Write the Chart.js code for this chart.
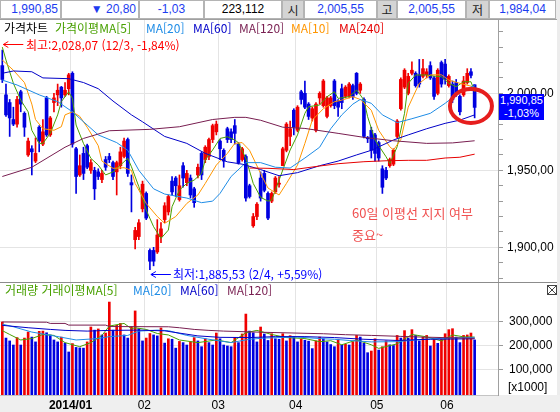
<!DOCTYPE html>
<html lang="ko">
<head>
<meta charset="utf-8">
<title>가격차트</title>
<script src="https://cdn.jsdelivr.net/npm/chart.js@4.4.1/dist/chart.umd.min.js"></script>
<style>
  html, body { margin: 0; padding: 0; }
  body { width: 560px; height: 412px; overflow: hidden; position: relative; background: #ececec;
         font-family: "Noto Sans CJK KR", sans-serif; font-size: 12px; }
  .box { position: absolute; }
  .cell { position: absolute; top: 0; height: 19px; box-sizing: border-box; background: #fff;
          border: 1px solid #b4b4b4; text-align: center; line-height: 17px;
          font-family: "Liberation Sans", sans-serif; font-size: 12px; color: #1c3cf0; }
  .key { background: #d4d4d4; color: #222; font-family: "Noto Sans CJK KR", sans-serif; }
  #panel { left: 0; top: 19px; width: 557px; height: 376px; background: #fff; border-top: 1px solid #a0a0a0; box-sizing: border-box; }
  #split { left: 0; top: 282px; width: 557px; height: 1px; background: #8c8c8c; }
  #strip { left: 0; top: 395px; width: 560px; height: 17px; background: #efefef; }
  canvas { position: absolute; left: 0; }
  .lg { position: absolute; white-space: nowrap; line-height: 14px; font-size: 12px; }
</style>
</head>
<body>
<div class="cell" style="left:0;width:61px;text-align:right;padding-right:2px">1,990,85</div>
<div class="cell" style="left:61px;width:78px;text-align:right;padding-right:2px">▼ 20,80</div>
<div class="cell" style="left:139px;width:65px">-1,03</div>
<div class="cell" style="left:204px;width:78px;color:#000">223,112</div>
<div class="cell key" style="left:282px;width:22px">시</div>
<div class="cell" style="left:304px;width:73px">2,005,55</div>
<div class="cell key" style="left:377px;width:20px">고</div>
<div class="cell" style="left:397px;width:69px">2,005,55</div>
<div class="cell key" style="left:466px;width:23px">저</div>
<div class="cell" style="left:489px;width:67px">1,984,04</div>

<div id="panel" class="box"></div>
<div id="split" class="box"></div>
<div id="strip" class="box"></div>

<canvas id="price" width="557" height="262" style="top:20px"></canvas>
<canvas id="volume" width="557" height="129" style="top:283px"></canvas>

<div class="lg" style="left:4px;top:21px;color:#000">가격차트</div>
<div class="lg" style="left:55px;top:21px;color:#48a000">가격이평MA[5]</div>
<div class="lg" style="left:146px;top:21px;color:#1e8ce6">MA[20]</div>
<div class="lg" style="left:193px;top:21px;color:#0000c8">MA[60]</div>
<div class="lg" style="left:239px;top:21px;color:#781e50">MA[120]</div>
<div class="lg" style="left:291px;top:21px;color:#ff9600">MA[10]</div>
<div class="lg" style="left:339px;top:21px;color:#e60000">MA[240]</div>

<div class="lg" style="left:26px;top:38px;color:#ff0000">최고:2,028,07 (12/3, -1,84%)</div>
<div class="lg" style="left:173px;top:267px;color:#0000ff">최저:1,885,53 (2/4, +5,59%)</div>
<div class="lg" style="left:352px;top:205px;color:#f05050;font-size:13px;line-height:16px">60일 이평선 지지 여부</div>
<div class="lg" style="left:352px;top:227px;color:#f05050;font-size:13px;line-height:16px">중요~</div>

<div class="box" style="left:499px;top:94px;width:45px;height:26px;background:#0000ff;color:#fff;font-family:'Liberation Sans',sans-serif;font-size:11px;line-height:13px;text-align:center">1,990,85<br>-1,03%</div>

<div class="lg" style="left:5px;top:283px;color:#48a000">거래량 거래이평MA[5]</div>
<div class="lg" style="left:133px;top:283px;color:#1e8ce6">MA[20]</div>
<div class="lg" style="left:180px;top:283px;color:#0000c8">MA[60]</div>
<div class="lg" style="left:227px;top:283px;color:#781e50">MA[120]</div>
<svg class="box" style="left:547px;top:285px" width="10" height="10"><rect x="0.5" y="0.5" width="9" height="9" fill="#fff" stroke="#444"/><path d="M1 1L9 9M9 1L1 9" stroke="#444"/></svg>
<div class="lg" style="left:508px;top:380px;color:#000;font-family:'Liberation Sans',sans-serif">[x1000]</div>

<script>
// candles, Dec 3 2013 .. Jun 2014
const opens = [2018,1999,1994,1983,1980,2001,1987,1960,1964,1956,1978,1967,1997,1973,1994,1999,2004,1999,2003,2013,
  1964,1947,1961,1966,1950,1950,1949,1944,1957,1959,1955,1949,1953,1959,1970,1942,1905,1907,1925,1935,
  1898,1898,1897,1907,1918,1923,1943,1945,1931,1953,1942,1945,1938,1947,1961,1957,1959,1970,1975,1969,
  1963,1977,1975,1979,1967,1957,1959,1940,1914,1920,1945,1948,1935,1930,1936,1941,1953,1963,1972,1989,
  1976,2001,2000,1993,1984,1976,1997,1992,1985,1992,2008,1995,2003,1998,1998,2005,2013,2002,1996,1971,
  1976,1973,1968,1951,1950,1953,1954,1972,1990,2004,2000,2013,2013,2012,2011,2012,2018,2010,2000,2020,
  2019,2005,2006,2007,1998,1999,2007,2014,2005.55];
const highs = [2028.07,2006,1996,1991,1998,2002,1988,1971,1966,1971,1979,1983,1998,1985,2000,2006,2004.5,2007,2013,2014,
  1965,1960,1965,1967,1957,1952,1951,1950,1959,1961,1956,1956,1965,1971,1971,1947,1913,1918,1943,1936,
  1899,1900,1918,1916,1929,1934,1946,1946,1947,1955,1950,1947,1939,1954,1962,1966,1971,1980,1982,1970,
  1964,1978,1977,1983,1968,1965,1960,1941,1922,1929,1949,1950,1936,1936,1946,1946,1965,1981,1982,1990,
  1992,2002,2008,1994,1991,1994,2001,2009,1998,1998,2009,1996,2006,2005,2007,2006,2013.5,2007,1997,1972,
  1978,1974,1969,1953,1952,1958,1964,1983,2010,2016,2013,2020.5,2014,2022,2022,2016,2020.5,2011,2016,2021,
  2022,2012,2008,2009,1999,2011,2016,2016,2005.55];
const lows = [2007,1985,1972,1979,1978,1988,1972,1959,1947,1955,1962,1966,1972,1972,1988,1992,1991,1998,1999,1965,
  1935,1946,1944,1951,1948,1931,1944,1942,1950,1955,1944,1934,1951,1958,1946,1923,1899,1905,1923,1918,
  1885.53,1888,1896,1903,1916,1921,1934,1933,1930,1939,1940,1932,1926,1945,1944,1955,1957,1968,1973,1957,
  1952,1968,1968,1967,1954,1956,1930,1932,1913,1918,1930,1936,1918,1929,1935,1939,1953,1962,1966,1973,
  1975,1993,1990,1983,1982,1975,1993,1991,1984,1991,1990,1985,1990,1997,1997,1996,1999,2000,1971,1968,
  1958,1956,1956,1935,1944,1952,1953,1971,1989,2003,1999,2012,2004,2004,2010,2010,2009,1996,1999,2004,
  2006,2004,1994,1998,1986,1998,2006,2010,1984.04];
const closes = [2009,1986,1984,1980,1996,1993,1978,1969,1962,1961,1969,1975,1973,1984,1997,2002,1997,2002,2012,1967,
  1946,1953,1948,1952,1955,1938,1946,1948,1952,1957,1946,1955,1962,1969,1948,1940.5,1911,1916,1941,1919,
  1891,1891,1908,1912,1927,1933,1936,1940,1940,1945,1948,1934,1929,1952,1947,1965,1970,1979,1980,1964,
  1956,1970,1970,1974,1955,1964,1932,1933,1920,1928,1932,1937,1919,1935,1945,1941.5,1964,1980,1977,1978,
  1991,1996,1991,1985,1990,1993,2000,2008,1997,1997,1992,1991,1994,2004,2006,1998,2000,2006,1972,1970.5,
  1963,1961,1958,1939,1945,1957,1963,1982,2009,2015,2011,2015,2005,2006,2016,2014,2010,1998,2015,2006,
  2009,2011,1996,1999,1988,2008,2013,2011.65,1990.85];

// volume, thousand shares
const volumes = [298000,231000,219000,202000,233000,202000,231000,256000,235000,215000,
  259000,260000,253000,244000,223000,215000,235000,210000,173000,208000,
  192000,190000,189000,215000,277000,264000,269000,244000,252000,381000,
  264000,284000,292000,244000,231000,278000,344000,270000,219000,231000,
  250000,244000,240000,273000,210000,228000,226000,189000,217000,212000,
  202000,215000,233000,219000,195000,228000,212000,202000,252000,228000,
  202000,198000,195000,233000,212000,248000,331000,260000,253000,215000,
  277000,248000,221000,249000,228000,226000,249000,219000,241000,236000,
  215000,226000,222000,218000,187000,219000,235000,228000,215000,204000,
  195000,226000,202000,205000,202000,216000,242000,235000,209000,170000,
  177000,228000,181000,195000,219000,203000,200000,242000,231000,262000,
  231000,266000,242000,219000,235000,242000,198000,226000,209000,226000,
  249000,266000,270000,235000,212000,242000,244000,252000,223112];

// moving averages: [candle index, value]
const ma5 = [[0,2030],[1,2021.6],[3,2006.5],[5,1995.6],[7,1988],[8,1976],[10,1967.5],[11,1967.5],[13,1974],[15,1986],
  [16,1994.6],[18,2001],[19,1996.7],[20,1979.4],[22,1967.5],[24,1957.8],[26,1953.4],[28,1947],[30,1949],[32,1953.4],
  [34,1957.8],[35,1952.3],[37,1939.4],[39,1924.2],[41,1913.4],[43,1905.8],[45,1911.2],[46,1926.4],[48,1937.2],[50,1941.5],
  [52,1943.7],[54,1948],[55,1956.7],[57,1963.2],[59,1970.7],[61,1971.8],[63,1969.7],[64,1967.9],[66,1957.8],[68,1941.5],
  [70,1932.5],[72,1930],[73,1930.7],[74,1937],[76,1950.2],[78,1963.2],[80,1973],[82,1987],[83,1991.3],[86,1992.4],
  [88,1997.8],[90,2001],[91,1996.7],[94,1997.8],[96,2002.1],[97,1999],[98,1995.6],[99,1984.8],[101,1969.7],[104,1958.8],
  [105,1954.5],[107,1965.3],[109,1987],[110,2006.5],[112,2011.9],[115,2011.9],[117,2011.2],[119,2010.8],[121,2006.5],[123,2004.3],
  [125,2007.5],[127,2007.5],[128,2001]];
const ma10 = [[0,2021.6],[3,2015],[6,2007],[8,1993],[9,1983],[11,1977],[14,1976],[16,1978.3],[17,1986],[19,1988],
  [21,1985],[23,1978],[26,1966],[27,1956],[30,1951.3],[33,1951.7],[35,1950],[36,1941.5],[39,1928.5],[42,1920],
  [44,1915.6],[47,1920],[50,1928.5],[53,1934],[55,1941.5],[58,1953.4],[61,1961],[63,1967.5],[65,1968],[67,1963],
  [70,1948],[72,1938.5],[75,1934],[77,1941.5],[80,1953.4],[82,1967.5],[84,1982.6],[87,1990],[90,1994.5],[92,1995.6],
  [95,1997.8],[97,1996],[100,1989],[102,1976],[105,1965.3],[106,1963.2],[108,1970],[110,1991],[113,2006.5],[116,2012],
  [119,2012],[121,2008.6],[124,2006.5],[128,2004]];
const ma20 = [[0,2008.6],[4,2005.4],[10,1999],[15,1994.6],[19,1988],[23,1979.4],[26,1973],[31,1968],[34,1963],[37,1950],
  [41,1938],[44,1934.6],[50,1932],[54,1929],[57,1930],[59,1935],[62,1946],[66,1955],[70,1955],[74,1952],
  [78,1951.5],[82,1958],[86,1965],[89,1977],[92,1986],[95,1993],[97,1996],[100,1993.5],[103,1986],[107,1981],
  [111,1983.5],[116,1987],[120,1993.5],[124,2001],[128,2005]];
const ma60 = [[0,2013],[3,2014.5],[8,2014],[11,2010],[18,2009.5],[22,2007],[26,2003],[30,1995],[35,1986],[38,1981.5],
  [44,1972],[50,1967.5],[55,1961],[61,1955.5],[65,1954],[70,1950.5],[75,1946.5],[80,1948.5],[86,1953],[91,1956],
  [96,1960],[100,1963],[106,1969.7],[110,1973],[115,1977],[120,1980.5],[124,1982.6],[128,1986]];
const ma120 = [[0,1946],[8,1952],[17,1965],[22,1970.7],[29,1975.7],[40,1976.6],[48,1978.3],[57,1983],[63,1984.4],[66,1984.4],
  [70,1982.5],[76,1978],[82,1977.2],[91,1974],[98,1971.4],[106,1969.2],[115,1967.5],[122,1967.8],[128,1969.2]];
const ma240 = [[67,1951.5],[72,1951.3],[79,1950.5],[86,1952.8],[91,1954.3],[98,1955.6],[104,1956.2],[110,1956.5],[115,1956.5],[120,1958],
  [124,1958.5],[128,1960.5]];

const volMa5 = [[0,262000],[2,246000],[5,223000],[8,229000],[11,246000],[14,242000],[17,212000],[21,195000],[24,212000],[27,242000],
  [29,281000],[33,292000],[35,270000],[36,274000],[39,267000],[42,250000],[45,244000],[48,223000],[53,212000],[58,223000],
  [62,212000],[66,253000],[69,263000],[73,246000],[77,233000],[82,229000],[86,216000],[89,220000],[92,203000],[96,223000],
  [100,203000],[102,188000],[107,207000],[111,246000],[115,236000],[119,219000],[122,244000],[125,236000],[128,235000]];
const volMa20 = [[0,289000],[3,278000],[8,256000],[14,240000],[20,223000],[26,229000],[29,237000],[34,242000],[37,260000],[42,264000],
  [45,262000],[50,242000],[56,226000],[62,212000],[67,226000],[71,231000],[80,235000],[87,228000],[90,226000],[94,221000],
  [100,215000],[107,216000],[114,226000],[121,231000],[128,234000]];
const volMa60 = [[0,284000],[7,274000],[13,267000],[17,263000],[23,260000],[29,263000],[37,264000],[44,261000],[53,240000],[59,234000],
  [67,233000],[74,237000],[82,237000],[90,233000],[98,226000],[107,221000],[116,226000],[128,228000]];
const volMa120 = [[0,298000],[12,297000],[13,292000],[17,292000],[18,285000],[28,285000],[29,279000],[45,278000],[48,274000],[52,267000],
  [56,263000],[60,260000],[71,255000],[87,249000],[93,245000],[100,242000],[108,238000],[114,235000],[128,230000]];

// first trading day of each month, and its axis label
const monthStart = [19, 39, 59, 80, 102, 121];
const monthLabels = ['2014/01', '02', '03', '04', '05', '06'];
const priceTicks = [1900, 1950, 2000];
const volumeTicks = [100000, 200000, 300000];

const RED = '#f00000', BLUE = '#0000e0';
const GRID = '#e4e4e4';
const AXIS_FONT = { family: 'Liberation Sans', size: 12 };

const idx = closes.map((_, i) => i);
const pts = a => a.map(([x, y]) => ({ x, y }));
const fmt = (v, d) => {
  const [a, b] = v.toFixed(d).split('.');
  return a.replace(/\B(?=(\d{3})+(?!\d))/g, ',') + (b ? ',' + b : '');
};
const line = (label, arr, color) => ({
  type: 'line', label, data: pts(arr), borderColor: color, borderWidth: 1,
  pointRadius: 0, tension: 0, fill: false, order: 0
});
const noPad = s => { s.paddingTop = 0; s.paddingBottom = 0; s.paddingLeft = 0; s.paddingRight = 0; };

const xScale = (withLabels) => ({
  type: 'linear', min: -0.623, max: 134.33, offset: false,
  afterBuildTicks: s => { s.ticks = monthStart.map(m => ({ value: m - 0.5 })); },
  ticks: {
    display: withLabels, autoSkip: false, maxRotation: 0, padding: 3, color: '#000',
    callback: (v, i) => monthLabels[i],
    font: c => ({ family: 'Liberation Sans', size: 12, weight: c.index === 0 ? 'bold' : 'normal' })
  },
  grid: { color: GRID, drawTicks: false, offset: false },
  border: { display: withLabels, color: '#c4c4c4' },
  afterFit: s => { s.height = withLabels ? 17 : 0; noPad(s); }
});

const hiIdx = highs.indexOf(Math.max(...highs));
const loIdx = lows.indexOf(Math.min(...lows));

function arrow(ctx, x, y, len, color) {
  ctx.strokeStyle = color;
  ctx.lineWidth = 1;
  ctx.beginPath();
  ctx.moveTo(x + len, y); ctx.lineTo(x, y);
  ctx.moveTo(x + 5, y - 3); ctx.lineTo(x, y); ctx.lineTo(x + 5, y + 3);
  ctx.stroke();
}

const marks = {
  id: 'marks',
  afterDatasetsDraw(chart) {
    const { ctx, scales: { x, y } } = chart;
    ctx.save();
    arrow(ctx, x.getPixelForValue(hiIdx) + 1, Math.round(y.getPixelForValue(highs[hiIdx])) - 5.5, 20, '#ff0000');
    arrow(ctx, x.getPixelForValue(loIdx) + 1, Math.round(y.getPixelForValue(lows[loIdx])) + 4.5, 20, '#0000ff');
    ctx.strokeStyle = '#e61e1e';
    ctx.lineWidth = 4;
    ctx.beginPath();
    ctx.ellipse(x.getPixelForValue(127), y.getPixelForValue(1991.75), 21, 17, 0, 0, Math.PI * 2);
    ctx.stroke();
    ctx.restore();
  }
};

new Chart(document.getElementById('price'), {
  type: 'bar',
  data: {
    datasets: [
      line('MA[240]', ma240, '#e60000'),
      line('MA[120]', ma120, '#781e50'),
      line('MA[60]', ma60, '#0000c8'),
      line('MA[20]', ma20, '#1e8ce6'),
      line('MA[10]', ma10, '#ff9600'),
      line('MA[5]', ma5, '#48a000'),
      {
        label: 'body', order: 1, grouped: false, barThickness: 3, minBarLength: 1,
        data: idx.map(i => ({ x: i, y: [opens[i], closes[i]] })),
        backgroundColor: idx.map(i => closes[i] >= opens[i] ? RED : BLUE)
      },
      {
        label: 'wick', order: 2, grouped: false, barThickness: 1,
        data: idx.map(i => ({ x: i, y: [lows[i], highs[i]] })),
        backgroundColor: idx.map(i => closes[i] >= opens[i] ? RED : BLUE)
      }
    ]
  },
  options: {
    responsive: false, animation: false, devicePixelRatio: 1,
    layout: { padding: 0 },
    plugins: { legend: { display: false }, tooltip: { enabled: false } },
    scales: {
      x: xScale(false),
      y: {
        position: 'right', min: 1877.5, max: 2047.6,
        afterBuildTicks: s => { const t = []; for (let v = 1880; v <= 2040; v += 10) t.push({ value: v }); s.ticks = t; },
        ticks: {
          autoSkip: false, padding: 4, color: '#000', font: AXIS_FONT,
          callback: v => priceTicks.includes(v) ? fmt(v, 2) : ''
        },
        grid: {
          color: c => c.tick && priceTicks.includes(c.tick.value) ? GRID : 'rgba(0,0,0,0)',
          tickColor: '#9a9a9a', tickLength: 5
        },
        border: { display: true, color: '#a0a0a0' },
        afterFit: s => { s.width = 59; noPad(s); }
      }
    }
  },
  plugins: [marks]
});

new Chart(document.getElementById('volume'), {
  type: 'bar',
  data: {
    datasets: [
      line('MA[120]', volMa120, '#781e50'),
      line('MA[60]', volMa60, '#0000c8'),
      line('MA[20]', volMa20, '#1e8ce6'),
      line('MA[5]', volMa5, '#48a000'),
      {
        label: '거래량', order: 1, grouped: false, barThickness: 2, base: -6250,
        data: idx.map(i => ({ x: i, y: volumes[i] })),
        backgroundColor: idx.map(i => (i === 0 || volumes[i] >= volumes[i - 1]) ? RED : BLUE)
      }
    ]
  },
  options: {
    responsive: false, animation: false, devicePixelRatio: 1,
    layout: { padding: 0 },
    plugins: { legend: { display: false }, tooltip: { enabled: false } },
    scales: {
      x: xScale(true),
      y: {
        position: 'right', min: -6250, max: 460400,
        afterBuildTicks: s => { s.ticks = [0, 100000, 200000, 300000, 400000].map(value => ({ value })); },
        ticks: {
          autoSkip: false, padding: 6, color: '#000', font: AXIS_FONT,
          callback: v => volumeTicks.includes(v) ? fmt(v, 0) : ''
        },
        grid: {
          color: c => c.tick && volumeTicks.includes(c.tick.value) ? GRID : 'rgba(0,0,0,0)',
          tickColor: c => c.tick && volumeTicks.includes(c.tick.value) ? '#9a9a9a' : 'rgba(0,0,0,0)',
          tickLength: 5
        },
        border: { display: true, color: '#a0a0a0' },
        afterFit: s => { s.width = 59; noPad(s); }
      }
    }
  }
});
</script>
</body>
</html>
